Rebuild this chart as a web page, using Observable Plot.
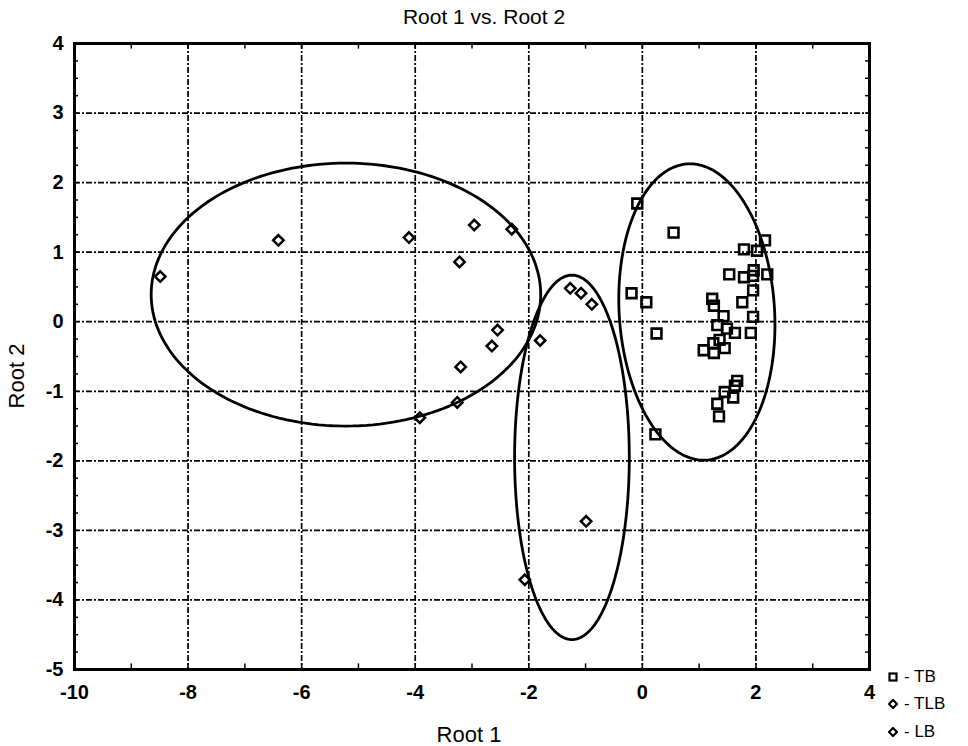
<!DOCTYPE html>
<html>
<head>
<meta charset="utf-8">
<script src="https://cdn.jsdelivr.net/npm/d3@7"></script>
<script src="https://cdn.jsdelivr.net/npm/@observablehq/plot@0.6"></script>
<style>
  html, body { margin: 0; padding: 0; background: white; }
  #wrap { position: relative; width: 968px; height: 746px; font-family: "Liberation Sans", Arial, sans-serif; color: black; }
  #chart { position: absolute; left: 0; top: 0; }
  .lbl { position: absolute; white-space: nowrap; color: black; line-height: 1; }
  #title { left: 0; width: 968px; top: 6px; text-align: center; font-size: 21px; }
  #xlabel { left: 0; width: 938px; top: 724px; text-align: center; font-size: 22px; }
  #ylabel { left: 17px; top: 376px; transform: translate(-50%, -50%) rotate(-90deg); font-size: 22px; }
  #legend { position: absolute; left: 888px; top: 663px; font-size: 17px; color: black; }
  #legend div { height: 27.5px; display: flex; align-items: center; }
  #legend svg { margin-right: 6px; }
</style>
</head>
<body>
<div id="wrap">
  <div id="chart"></div>
  <div class="lbl" id="title">Root 1 vs. Root 2</div>
  <div class="lbl" id="xlabel">Root 1</div>
  <div class="lbl" id="ylabel">Root 2</div>
  <div id="legend"></div>
</div>
<script>
// ---- Data ----
const tbRoot1 = [-0.09, 0.55, 2.16, 1.79, 2.02, 1.53, 1.79, 1.95, 1.96, 2.20, -0.19, 0.07, 1.23, 1.26, 1.95, 1.76, 0.25, 1.43, 1.95, 1.32, 1.49, 1.63, 1.91, 1.36, 1.25, 1.45, 1.08, 1.26, 1.67, 1.63, 1.45, 1.60, 1.32, 1.35, 0.23];
const tbRoot2 = [1.70, 1.28, 1.17, 1.04, 1.02, 0.68, 0.64, 0.66, 0.74, 0.68, 0.41, 0.28, 0.33, 0.23, 0.45, 0.28, -0.17, 0.08, 0.07, -0.05, -0.10, -0.16, -0.16, -0.26, -0.31, -0.38, -0.41, -0.45, -0.85, -0.92, -1.01, -1.09, -1.18, -1.36, -1.62];

const tlbRoot1 = [-1.27, -1.08, -0.89, -1.80, -0.99, -2.07];
const tlbRoot2 = [0.48, 0.41, 0.25, -0.27, -2.87, -3.71];

const lbRoot1 = [-8.49, -6.41, -4.11, -2.96, -2.30, -3.22, -2.55, -2.65, -3.20, -3.26, -3.92];
const lbRoot2 = [0.65, 1.17, 1.21, 1.39, 1.33, 0.86, -0.12, -0.35, -0.65, -1.16, -1.38];

// confidence ellipses: centre, radii, top shift (tilt)
const ellipseGroup = ["LB", "TLB", "TB"];
const ellipseCx = [-5.22, -1.24, 0.96];
const ellipseCy = [0.39, -1.95, 0.14];
const ellipseRx = [3.43, 1.01, 1.37];
const ellipseRy = [1.89, 2.62, 2.13];
const ellipseTilt = [0, 0, -0.12];

const xTicks = [-10, -8, -6, -4, -2, 0, 2, 4];
const yTicks = [-5, -4, -3, -2, -1, 0, 1, 2, 3, 4];
const xGrid = [-8, -6, -4, -2, 0, 2];
const yGrid = [-4, -3, -2, -1, 0, 1, 2, 3];
const xMinor = [-9, -8, -7, -6, -5, -4, -3, -2, -1, 0, 1, 2, 3];
const yMinor = d3.range(-4.75, 4, 0.25);

// ---- Build tables ----
const tb = tbRoot1.map((x, i) => ({x, y: tbRoot2[i]}));
const tlb = tlbRoot1.map((x, i) => ({x, y: tlbRoot2[i]}));
const lb = lbRoot1.map((x, i) => ({x, y: lbRoot2[i]}));

const ellipsePts = [];
ellipseGroup.forEach((g, k) => {
  for (let a = 0; a < 360; a += 2) {
    const t = a * Math.PI / 180;
    ellipsePts.push({
      g,
      x: ellipseCx[k] + ellipseRx[k] * Math.cos(t) + ellipseTilt[k] * Math.sin(t),
      y: ellipseCy[k] + ellipseRy[k] * Math.sin(t)
    });
  }
});

const dash = "6,2,2,2";
const tx = 0.07;  // minor tick length (x units)
const ty = 0.08;  // minor tick length (y units)

const chart = Plot.plot({
  width: 968,
  height: 746,
  marginLeft: 74,
  marginRight: 99,
  marginTop: 43,
  marginBottom: 77,
  x: {domain: [-10, 4]},
  y: {domain: [-5, 4]},
  style: {fontFamily: "'Liberation Sans', Arial, sans-serif", fontSize: "20px", fontWeight: "bold", background: "white", color: "black", overflow: "visible"},
  marks: [
    Plot.gridX(xGrid, {stroke: "black", strokeOpacity: 1, strokeWidth: 1.7, strokeDasharray: dash}),
    Plot.gridY(yGrid, {stroke: "black", strokeOpacity: 1, strokeWidth: 1.7, strokeDasharray: dash}),
    Plot.axisX({ticks: xTicks, tickSize: 0, tickPadding: 15, label: null, fontWeight: "bold", tickFormat: d => String(d)}),
    Plot.axisY({ticks: yTicks, tickSize: 0, tickPadding: 11, label: null, fontWeight: "bold", tickFormat: d => String(d)}),
    Plot.ruleX(xMinor, {x: d => d, y1: -5, y2: -5 + ty, stroke: "black", strokeWidth: 1.5}),
    Plot.ruleX(xMinor, {x: d => d, y1: 4, y2: 4 - ty, stroke: "black", strokeWidth: 1.5}),
    Plot.ruleY(yMinor, {y: d => d, x1: -10, x2: -10 + tx, stroke: "black", strokeWidth: 1.5}),
    Plot.ruleY(yMinor, {y: d => d, x1: 4, x2: 4 - tx, stroke: "black", strokeWidth: 1.5}),
    Plot.line(ellipsePts, {x: "x", y: "y", z: "g", stroke: "black", strokeWidth: 2.8, curve: "linear-closed"}),
    Plot.dot(tb, {x: "x", y: "y", symbol: "square", r: 5.5, stroke: "black", strokeWidth: 2.6, fill: "none"}),
    Plot.dot(tlb, {x: "x", y: "y", symbol: "diamond2", r: 4.7, stroke: "black", strokeWidth: 2.5, fill: "none"}),
    Plot.dot(lb, {x: "x", y: "y", symbol: "diamond2", r: 4.7, stroke: "black", strokeWidth: 2.5, fill: "none"}),
    Plot.frame({stroke: "black", strokeWidth: 3})
  ]
});
document.getElementById("chart").appendChild(chart);

// ---- Legend ----
const legendItems = [
  {name: "TB", shape: "square"},
  {name: "TLB", shape: "diamond"},
  {name: "LB", shape: "diamond"}
];
const legend = document.getElementById("legend");
legendItems.forEach(it => {
  const row = document.createElement("div");
  const sym = it.shape === "square"
    ? '<svg width="10" height="10"><rect x="1.5" y="1.5" width="7" height="7" fill="none" stroke="black" stroke-width="2.2"/></svg>'
    : '<svg width="10" height="10"><path d="M5,1L9,5L5,9L1,5Z" fill="none" stroke="black" stroke-width="2.2"/></svg>';
  row.innerHTML = sym + "<span>- " + it.name + "</span>";
  legend.appendChild(row);
});
</script>
</body>
</html>
